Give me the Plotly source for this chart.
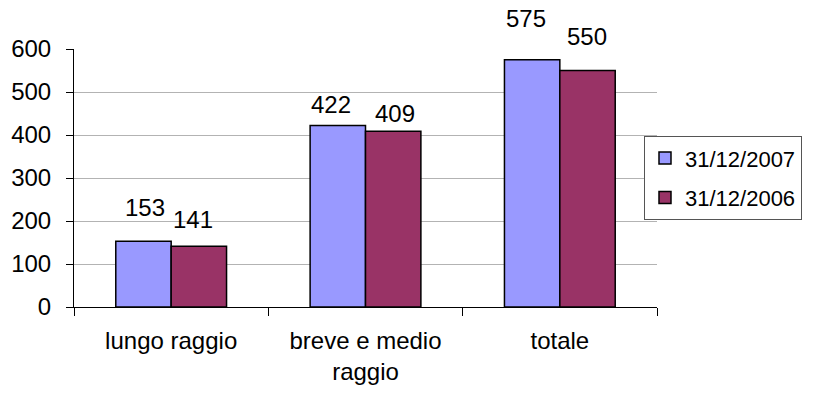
import plotly.graph_objects as go

categories = ["lungo raggio", "breve e medio<br>raggio", "totale"]
series_names = ["31/12/2007", "31/12/2006"]
values_2007 = [153, 422, 575]
values_2006 = [141, 409, 550]
y_ticks = [0, 100, 200, 300, 400, 500, 600]

colors = ["#9999FF", "#993366"]
font_family = "Liberation Sans, Arial, sans-serif"
FS = 24

# data-label placement (pixel nudges, as in the original manually placed labels)
label_dx = [[1.5, -7, -6], [-6, 2, 0]]
label_dy = [[18, 5.5, 26], [11, 2, 18.5]]
bar_half = 27.5

fig = go.Figure()
for name, vals, col in zip(series_names, [values_2007, values_2006], colors):
    fig.add_trace(go.Bar(
        x=categories, y=vals, name=name, legendgroup=name,
        marker=dict(color=col, line=dict(color="black", width=1.5)),
    ))

for si, vals in enumerate([values_2007, values_2006]):
    base = -bar_half if si == 0 else bar_half
    for ci, (c, v) in enumerate(zip(categories, vals)):
        fig.add_annotation(
            x=c, y=v, text=str(v), showarrow=False,
            xshift=base + label_dx[si][ci], yanchor="bottom", yshift=label_dy[si][ci],
            font=dict(family=font_family, size=FS, color="black"),
        )

fig.update_layout(
    width=815, height=394,
    margin=dict(l=74, r=158, t=49, b=87),
    paper_bgcolor="white", plot_bgcolor="white",
    barmode="group", bargap=0.43, bargroupgap=0,
    font=dict(family=font_family, size=FS, color="black"),
    showlegend=True,
    legend=dict(
        x=0.9777, y=0.662, xanchor="left", yanchor="top",
        bordercolor="#555555", borderwidth=1, bgcolor="white",
        font=dict(family=font_family, size=22, color="black"),
        tracegroupgap=8, itemwidth=30,
    ),
)
fig.update_yaxes(
    range=[0, 600], tickvals=y_ticks, showgrid=True, gridcolor="#b3b3b3", gridwidth=1,
    showline=True, linecolor="black", linewidth=1,
    ticks="outside", ticklen=7, tickcolor="black",
    zeroline=False, ticklabelstandoff=10, automargin=False,
    tickfont=dict(family=font_family, size=FS),
)
fig.update_xaxes(
    showline=True, linecolor="black", linewidth=1,
    ticks="outside", tickson="boundaries", ticklen=8, tickcolor="black",
    ticklabelstandoff=12, automargin=False,
    tickfont=dict(family=font_family, size=FS),
)

fig.write_html("out.html")
